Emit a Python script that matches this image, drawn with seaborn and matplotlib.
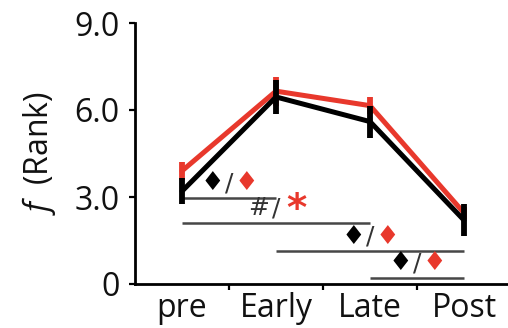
import matplotlib
matplotlib.use("Agg")
import matplotlib.pyplot as plt
import seaborn as sns
import pandas as pd

# Time points and group means / error magnitudes
phases = ["pre", "Early", "Late", "Post"]
black_mean = [3.2, 6.45, 5.6, 2.2]
black_err = [0.45, 0.6, 0.55, 0.55]
red_mean = [3.9, 6.65, 6.15, 2.45]
red_err = [0.3, 0.5, 0.3, 0.2]

# Pairwise comparison brackets: (start index, end index, height, left mark, right mark)
pair_start = [0, 0, 1, 2]
pair_end = [1, 2, 3, 3]
pair_height = [2.98, 2.12, 1.13, 0.21]
left_mark = ["\u2666", "#", "\u2666", "\u2666"]
right_mark = ["\u2666", "*", "\u2666", "\u2666"]

y_ticks = [0, 3, 6, 9]
y_tick_labels = ["0", "3.0", "6.0", "9.0"]

RED = "#e8382c"
BLACK = "#000000"
GRAY = "#474747"
TEXT = "#111111"

sns.set_theme(style="white")
plt.rcParams["font.family"] = ["Open Sans", "DejaVu Sans"]
plt.rcParams["mathtext.fontset"] = "custom"
plt.rcParams["mathtext.it"] = "Open Sans:italic"
plt.rcParams["mathtext.rm"] = "Open Sans"

fig = plt.figure(figsize=(5.08, 3.28), dpi=100)
ax = fig.add_axes([135 / 508, 44 / 328, 376 / 508, 261 / 328])

df = pd.DataFrame({
    "x": list(range(len(phases))) * 2,
    "value": red_mean + black_mean,
    "group": ["red"] * len(phases) + ["black"] * len(phases),
})

# red group underneath, black on top
for grp, means, errs, col, z in [("red", red_mean, red_err, RED, 2),
                                  ("black", black_mean, black_err, BLACK, 3)]:
    sub = df[df["group"] == grp]
    sns.lineplot(data=sub, x="x", y="value", color=col, linewidth=3.6,
                 ax=ax, zorder=z, legend=False)
    lo = [m - e for m, e in zip(means, errs)]
    hi = [m + e for m, e in zip(means, errs)]
    ax.vlines(range(len(phases)), lo, hi, color=col, linewidth=4.2, zorder=z)

# comparison brackets with their marks
for s, e, h, lm, rm in zip(pair_start, pair_end, pair_height, left_mark, right_mark):
    ax.plot([s, e], [h, h], color=GRAY, linewidth=1.8, zorder=1,
            solid_capstyle="butt")
    mid = (s + e) / 2
    ty = h + 0.08
    if lm == "#":
        ax.text(mid - 0.19, ty, "#", color="#333333", fontsize=18,
                ha="center", va="bottom", family="DejaVu Sans")
        ax.text(mid, ty, "/", color="#333333", fontsize=18,
                ha="center", va="bottom", family="DejaVu Sans")
        ax.text(mid + 0.22, ty - 0.3, "*", color=RED, fontsize=28,
                ha="center", va="bottom", family="DejaVu Sans",
                fontweight="bold")
    else:
        ax.text(mid - 0.18, ty - 0.03, lm, color=BLACK, fontsize=19,
                ha="center", va="bottom", family="DejaVu Sans")
        ax.text(mid, ty, "/", color="#333333", fontsize=18,
                ha="center", va="bottom", family="DejaVu Sans")
        ax.text(mid + 0.18, ty - 0.03, rm, color=RED, fontsize=19,
                ha="center", va="bottom", family="DejaVu Sans")

ax.set_xlim(-0.5, 3.5)
ax.set_ylim(0, 9)
ax.set_yticks(y_ticks)
ax.set_yticklabels(y_tick_labels)
ax.set_xticks(range(len(phases)))
ax.set_xticklabels(phases)
ax.set_xticks([0.5, 1.5, 2.5], minor=True)
ax.tick_params(axis="x", which="major", length=0, pad=6, labelsize=23,
               colors=TEXT)
ax.tick_params(axis="x", which="minor", length=4, width=1.6, direction="out",
               bottom=True, color="black")
ax.tick_params(axis="y", which="major", length=4, width=1.6, direction="out",
               left=True, pad=7, labelsize=23, colors=TEXT)
ax.tick_params(axis="y", color="black")
ax.set_xlabel("")
ax.set_ylabel("$f$  (Rank)", fontsize=23, color=TEXT, labelpad=12)

for side in ["top", "right"]:
    ax.spines[side].set_visible(False)
for side in ["left", "bottom"]:
    ax.spines[side].set_color("black")
    ax.spines[side].set_linewidth(2.0)

fig.savefig("out.png", dpi=100, facecolor="white")
